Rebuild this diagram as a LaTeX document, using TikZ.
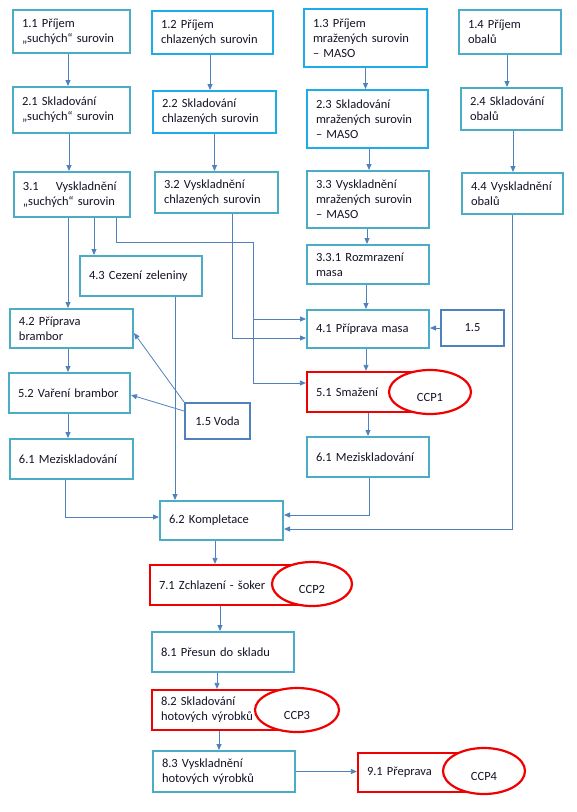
\documentclass[tikz,border=0pt]{standalone}
\usepackage{fontspec}
\setmainfont{Carlito}
\usepackage{xcolor}
\definecolor{flteal}{RGB}{75,172,198}
\definecolor{flsky}{RGB}{30,172,232}
\definecolor{flblue}{RGB}{79,129,189}
\definecolor{flred}{RGB}{240,0,0}
\definecolor{flarrow}{RGB}{79,129,189}
\definecolor{fltext}{RGB}{20,20,40}
\usetikzlibrary{arrows.meta, shapes.geometric, calc}

\tikzset{
  boxsize/.code 2 args={\pgfmathsetmacro\boxtw{#1-18}%
    \pgfkeysalso{minimum width=#1pt, minimum height=#2pt, text width=\boxtw pt}},
  stepbox/.style={draw=flteal, line width=2pt, fill=white, align=left,
    inner xsep=9pt, inner ysep=0pt, text=fltext, font=\fontsize{12.5}{15}\selectfont},
  ccpbox/.style={stepbox, draw=flred, line width=2.2pt},
  inbox/.style={draw=flblue, line width=2pt, fill=white, align=center,
    inner sep=2pt, text=fltext, font=\fontsize{12.5}{15}\selectfont},
  ccpmark/.style={ellipse, draw=flred, line width=2.2pt, fill=white, inner sep=2pt,
    text height=18pt, text depth=0pt, text=fltext, font=\fontsize{12.5}{15}\selectfont},
  flow/.style={draw=flarrow, line width=0.8pt, -{Triangle[length=6pt, width=5pt]}},
  flowplain/.style={draw=flarrow, line width=0.8pt}
}

\begin{document}
\begin{tikzpicture}[x=1pt, y=-1pt]
  \useasboundingbox (0,0) rectangle (577,812);

  % Row 1 -- receiving
  \node[stepbox, boxsize={117}{43}] (p11) at (71.5,31.5) {1.1 Příjem\\„suchých“ surovin};
  \node[stepbox, draw=flsky, boxsize={121}{43}] (p12) at (212.5,32.5) {1.2 Příjem\\chlazených surovin};
  \node[stepbox, draw=flsky, boxsize={123}{58}] (p13) at (365.5,38) {1.3 Příjem\\mražených surovin\\– MASO};
  \node[stepbox, boxsize={102}{44}] (p14) at (510,32) {1.4 Příjem\\obalů};

  % Row 2 -- storage
  \node[stepbox, boxsize={117}{46}] (p21) at (71.5,110) {2.1 Skladování\\„suchých“ surovin};
  \node[stepbox, draw=flsky, boxsize={123}{42}] (p22) at (214.5,112) {2.2 Skladování\\chlazených surovin};
  \node[stepbox, draw=flsky, boxsize={121}{58}] (p23) at (367.5,119) {2.3 Skladování\\mražených surovin\\– MASO};
  \node[stepbox, boxsize={101}{42}] (p24) at (511.5,109) {2.4 Skladování\\obalů};

  % Row 3 -- dispatch from store
  \node[stepbox, boxsize={116}{45}] (p31) at (72,194.5) {3.1\hspace{17pt}Vyskladnění\\„suchých“ surovin};
  \node[stepbox, boxsize={123}{41}] (p32) at (216.5,192.5) {3.2 Vyskladnění\\chlazených surovin};
  \node[stepbox, boxsize={122}{57}] (p33) at (368,199.5) {3.3 Vyskladnění\\mražených surovin\\– MASO};
  \node[stepbox, boxsize={101}{41}] (p44) at (512.5,193.5) {4.4 Vyskladnění\\obalů};

  % Preparation
  \node[stepbox, boxsize={122}{40}] (p43) at (141,276) {4.3 Cezení zeleniny};
  \node[stepbox, boxsize={122}{39}] (p331) at (368,264.5) {3.3.1 Rozmrazení\\masa};
  \node[stepbox, boxsize={123}{39}] (p42) at (71.5,328.5) {4.2 Příprava\\brambor};
  \node[stepbox, boxsize={122}{38}] (p41) at (368,329) {4.1 Příprava masa};
  \node[inbox, minimum width=63pt, minimum height=36pt] (in15) at (472.5,328) {1.5};

  % Cooking
  \node[stepbox, boxsize={121}{40}] (p52) at (69.5,393) {5.2 Vaření brambor};
  \node[ccpbox, boxsize={122}{40}] (p51) at (368,392) {5.1 Smažení};
  \node[ccpmark, minimum width=82pt, minimum height=44pt] (ccp1) at (430,392) {CCP1};
  \node[inbox, minimum width=65pt, minimum height=36pt] (voda) at (217.5,421) {1.5 Voda};

  % Holding and assembly
  \node[stepbox, boxsize={123}{40}] (p61a) at (71.5,459) {6.1 Meziskladování};
  \node[stepbox, boxsize={122}{40}] (p61b) at (368,457) {6.1 Meziskladování};
  \node[stepbox, boxsize={123}{39}] (p62) at (221.5,520.5) {6.2 Kompletace};

  % Chilling, storage, transport
  \node[ccpbox, boxsize={148}{40}] (p71) at (224,585) {7.1 Zchlazení - šoker};
  \node[ccpmark, minimum width=80pt, minimum height=44pt] (ccp2) at (312,584) {CCP2};
  \node[stepbox, boxsize={142}{40}] (p81) at (223,652) {8.1 Přesun do skladu};
  \node[ccpbox, boxsize={143}{40}] (p82) at (223.5,710) {8.2 Skladování\\hotových výrobků};
  \node[ccpmark, minimum width=84pt, minimum height=44pt] (ccp3) at (297,710) {CCP3};
  \node[stepbox, boxsize={142}{41}] (p83) at (224,771.5) {8.3 Vyskladnění\\hotových výrobků};
  \node[ccpbox, boxsize={122}{39}] (p91) at (419,772.5) {9.1 Přeprava};
  \node[ccpmark, minimum width=82pt, minimum height=46pt] (ccp4) at (484,771) {CCP4};

  % Helper points for the bent lines
  \coordinate (jtop) at (253,242);
  \coordinate (m41a) at ([yshift=10pt]p41.west);

  % Vertical flow in the columns
  \draw[flow] ([xshift=-3.5pt]p11.south) -- ([xshift=-3.5pt]p11.south |- p21.north);
  \draw[flow] ([xshift=-2.5pt]p12.south) -- ([xshift=-2.5pt]p12.south |- p22.north);
  \draw[flow] (p13.south) -- (p13.south |- p23.north);
  \draw[flow] ([xshift=-3pt]p14.south) -- ([xshift=-3pt]p14.south |- p24.north);
  \draw[flow] ([xshift=-2.5pt]p21.south) -- ([xshift=-2.5pt]p21.south |- p31.north);
  \draw[flow] (p22.south) -- (p22.south |- p32.north);
  \draw[flow] ([xshift=1.5pt]p23.south) -- ([xshift=1.5pt]p23.south |- p33.north);
  \draw[flow] ([xshift=1.5pt]p24.south) -- ([xshift=1.5pt]p24.south |- p44.north);
  \draw[flow] ([xshift=-1pt]p33.south) -- ([xshift=-1pt]p33.south |- p331.north);
  \draw[flow] ([xshift=-2pt]p331.south) -- ([xshift=-2pt]p331.south |- p41.north);
  \draw[flow] ([xshift=-2pt]p41.south) -- ([xshift=-2pt]p41.south |- p51.north);
  \draw[flow] (p51.south) -- (p51.south |- p61b.north);
  \draw[flow] (in15.west) -- (in15.west -| p41.east);

  % From dispatch of dry goods
  \draw[flow] ([xshift=-4pt]p31.south) -- ([xshift=-4pt]p31.south |- p42.north);
  \draw[flow] ([xshift=22pt]p31.south) -- ([xshift=22pt]p31.south |- p43.north);
  \draw[flowplain] ([xshift=44pt]p31.south) |- (jtop);
  \draw[flow] (jtop) |- ([yshift=9pt]p51.west);
  \draw[flow] (jtop |- m41a) -- (m41a);
  \draw[flow] ([xshift=15.5pt]p32.south) |- ([yshift=-9pt]p41.west);

  % Potato line and water
  \draw[flow] ([xshift=-3.5pt]p42.south) -- ([xshift=-3.5pt]p42.south |- p52.north);
  \draw[flow] ([xshift=-1.5pt]p52.south) -- ([xshift=-1.5pt]p52.south |- p61a.north);
  \draw[flow] (voda.north west) -- ([yshift=-4.5pt]p42.east);
  \draw[flow] ([yshift=-9pt]voda.north west) -- ([yshift=-2pt]p52.east);

  % Into assembly
  \draw[flow] ([xshift=34pt]p43.south) -- ([xshift=34pt]p43.south |- p62.north);
  \draw[flow] ([xshift=-6.5pt]p61a.south) |- ([yshift=3.5pt]p62.west);
  \draw[flow] ([xshift=1pt]p61b.south) |- ([yshift=5.5pt]p62.east);
  \draw[flow] (p44.south) |- ([yshift=-8.5pt]p62.east);

  % Final chain
  \draw[flow] ([xshift=-6.5pt]p62.south) -- ([xshift=-6.5pt]p62.south |- p71.north);
  \draw[flow] ([xshift=-4pt]p71.south) -- ([xshift=-4pt]p71.south |- p81.north);
  \draw[flow] ([xshift=-6pt]p81.south) -- ([xshift=-6pt]p81.south |- p82.north);
  \draw[flow] ([xshift=-4.5pt]p82.south) -- ([xshift=-4.5pt]p82.south |- p83.north);
  \draw[flow] (p83.east) -- (p83.east -| p91.west);

\end{tikzpicture}
\end{document}
